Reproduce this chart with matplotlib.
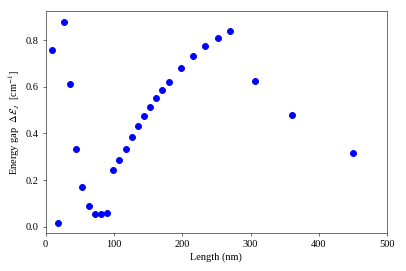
import matplotlib
matplotlib.use("Agg")
import matplotlib.pyplot as plt

# Length (nm) and energy gap (cm^-1)
length_nm = [9, 18, 27, 36, 45, 54, 63, 72, 81, 90, 99, 108, 117, 126, 135,
             144, 153, 162, 171, 180, 198, 216, 234, 252, 270, 306, 360, 450]
energy_gap = [0.756, 0.017, 0.879, 0.610, 0.333, 0.170, 0.088, 0.056, 0.056,
              0.060, 0.243, 0.287, 0.334, 0.383, 0.430, 0.473, 0.513, 0.551,
              0.587, 0.621, 0.681, 0.731, 0.773, 0.808, 0.838, 0.626, 0.477,
              0.316]

x_ticks = [0, 100, 200, 300, 400, 500]
y_ticks = [0.0, 0.2, 0.4, 0.6, 0.8]

plt.rcParams["font.family"] = ["Liberation Serif", "DejaVu Serif"]
plt.rcParams["mathtext.fontset"] = "stix"

fig, ax = plt.subplots(figsize=(6, 4), dpi=67.8)
fig.subplots_adjust(left=0.112, right=0.952, top=0.957, bottom=0.141)

ax.scatter(length_nm, energy_gap, color="blue", s=40, zorder=3)

ax.set_xlim(0, 500)
ax.set_xticks(x_ticks)
ax.set_yticks(y_ticks)
ax.set_xlabel("Length (nm)", fontsize=11)
ax.set_ylabel(r"Energy gap  $\Delta\mathcal{E}_J$  [cm$^{-1}$]", fontsize=11)
ax.tick_params(labelsize=11, color="#444444")
for spine in ax.spines.values():
    spine.set_color("#444444")

fig.savefig("out.png", dpi=67.8)
